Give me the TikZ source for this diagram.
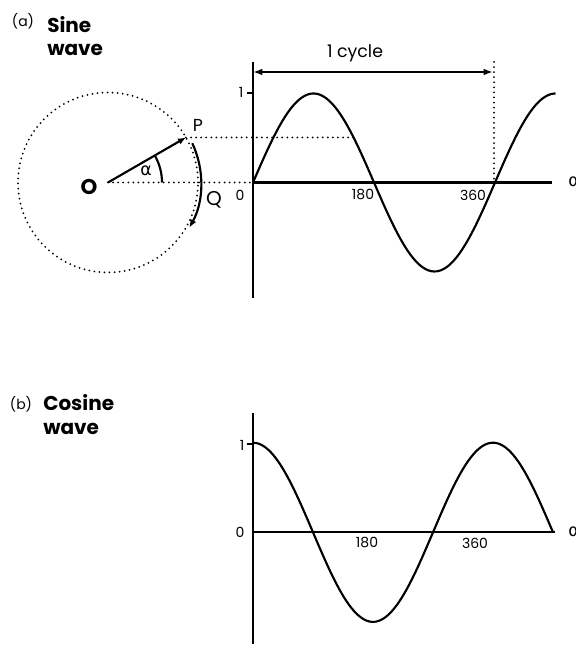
\documentclass[tikz,border=0pt]{standalone}
\usepackage{fontspec}
\setmainfont{Poppins}
\newfontfamily\grk{DejaVu Sans}
\usetikzlibrary{arrows.meta,calc}
\begin{document}
\begin{tikzpicture}[x=0.75pt,y=0.75pt,
  axis/.style={line width=1.8pt},
  wave/.style={line width=1.6pt},
  dots/.style={line width=1.5pt, line cap=round, dash pattern=on 0pt off 3.8pt},
  title/.style={inner sep=0pt, anchor=west, font=\fontsize{15}{17}\selectfont\bfseries},
  part/.style={inner sep=0pt, font=\fontsize{10.5}{12}\selectfont},
  num/.style={inner sep=0pt, font=\fontsize{10.5}{12}\selectfont},
  big/.style={inner sep=0pt, font=\fontsize{13}{15}\selectfont},
  tip/.style={-{Latex[length=6pt,width=5pt]}}]
\useasboundingbox (0,0) rectangle (575,648);
% ---------- (a) sine wave ----------
\node[part] (pa) at (23,627) {(a)};
\node[title] (sine) at (47,623) {Sine};
\node[title] (sinew) at (47,598) {wave};
\coordinate (c) at (108,465.5);
\coordinate (p) at ($(c)+(30:90)$);
\draw[dots] (c) circle[radius=90];
\draw[dots] (c) -- (253,465.5);
\draw[dots] (p) -- (358,510.5);
\draw[dots] (494,586) -- (494,465.5);
\draw[axis] (253,586) -- (253,350);
\draw[axis] (253,465.5) -- (552,465.5);
\draw[line width=1pt] (247,555) -- (253,555);
\draw[wave] plot[domain=0:450, samples=120, smooth] ({253+\x*0.67222},{465.5+89*sin(\x)});
\draw[wave,{Latex[length=7pt,width=5pt]}-{Latex[length=7pt,width=5pt]}] (253,576) -- (493,576);
\node[big] (cyc) at (355,595) {1 cycle};
\node[num] (one) at (241,556) {1};
\node[num] (zero) at (240,453) {0};
\node[num] (n180) at (363,453) {180};
\node[num] (n360) at (473,453) {360};
\node[inner sep=0pt, anchor=west, font=\fontsize{13}{15}\selectfont\grk] (acut) at (568,466) {α};
% circle annotations
\draw[wave,tip] (c) -- (p);
\draw[wave] ($(c)+(0:54)$) arc[start angle=0, end angle=30, radius=54];
\draw[wave,tip] ($(c)+(25:93)$) arc[start angle=25, end angle=-29, radius=93];
\node[big] (plbl) at (198,523) {P};
\node[inner sep=0pt, font=\fontsize{15}{17}\selectfont] (qlbl) at (214,448) {Q};
\node[inner sep=0pt, font=\fontsize{13}{15}\selectfont\grk] (alpha) at (146,477) {α};
\node[inner sep=0pt, font=\fontsize{16}{18}\selectfont\bfseries] (olbl) at (89,461) {O};
% ---------- (b) cosine wave ----------
\node[part] (pb) at (21,244) {(b)};
\node[title] (cosine) at (43,245) {Cosine};
\node[title] (cosw) at (43,219) {wave};
\draw[axis] (253,235) -- (253,4);
\draw[axis] (253,115.7) -- (555,115.7);
\draw[line width=1pt] (247,204) -- (253,204);
\draw[wave] plot[domain=0:450, samples=120, smooth] ({253+\x*0.66667},{115.7+89.6*cos(\x)});
\node[num] (one2) at (242,203) {1};
\node[num] (zero2) at (240,116) {0};
\node[num] (m180) at (367,105) {180};
\node[num] (m360) at (475,105) {360};
\node[inner sep=0pt, anchor=west, font=\fontsize{13}{15}\selectfont\grk] (acut2) at (568,116) {α};
\end{tikzpicture}
\end{document}
